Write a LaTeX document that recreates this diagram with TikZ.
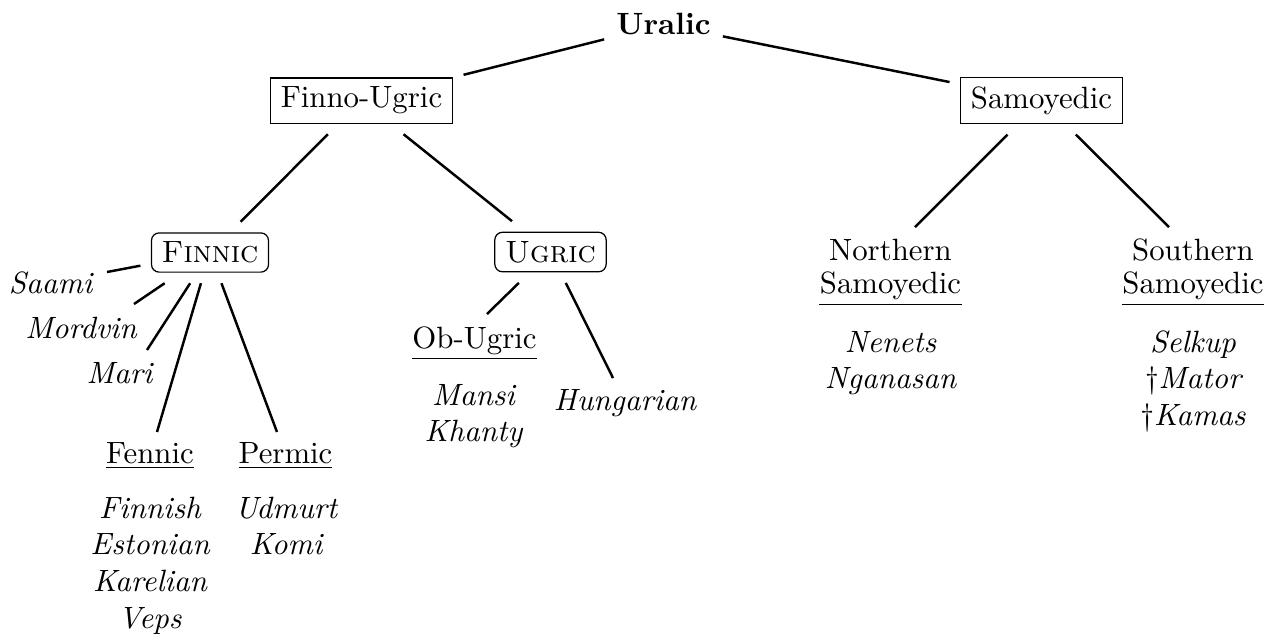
\documentclass[tikz,border=0pt]{standalone}

% stacked cells: lists of languages and two-line group names
\newcommand\langlist[1]{\begin{tabular}[t]{@{}c@{}}#1\end{tabular}}
\newcommand\headstack[1]{{\renewcommand\arraystretch{0.9167}\begin{tabular}[t]{@{}c@{}}#1\end{tabular}}}

\tikzset{
  box/.style={draw, line width=0.4pt, inner xsep=3.33pt, inner ysep=2.9pt, outer sep=3.6pt},
  group/.style={box, rounded corners=2.5pt},
  word/.style={inner sep=3.33pt, outer sep=0.6pt},
  lang/.style={inner sep=0pt, font=\itshape},
  head/.style={inner sep=0pt},
  branch/.style={line width=0.8pt},
  rulebar/.style={line width=0.4pt},
}

\begin{document}
\begin{tikzpicture}[x=0.3247pt, y=-0.3247pt]
  \useasboundingbox (0,0) rectangle (1278,634);

  % root and first split
  \node[word, font=\bfseries] (uralic) at (663.5,24.4) {Uralic};
  \node[box] (fu)  at (361.5,100.5)  {Finno-Ugric};
  \node[box] (sam) at (1041.5,100.5) {Samoyedic};

  % Finno-Ugric branches
  \node[group] (finnic) at (210,252.5) {\textsc{Finnic}};
  \node[group] (ugric)  at (550.5,252) {\textsc{Ugric}};

  % Finnic leaves
  \node[word, font=\itshape, anchor=base] (saami)   at (50.5,293)  {Saami};
  \node[word, font=\itshape, anchor=base] (mordvin) at (81,338)    {Mordvin};
  \node[word, font=\itshape, anchor=base] (mari)    at (119.5,383) {Mari};
  \node[word, anchor=base] (fennic) at (150,463)   {\underline{Fennic}};
  \node[word, anchor=base] (permic) at (285.5,463) {\underline{Permic}};
  \node[lang, anchor=base] (fenniclist) at (150,518) {\langlist{Finnish\\Estonian\\Karelian\\Veps}};
  \node[lang, anchor=base] (permiclist) at (286,518) {\langlist{Udmurt\\Komi}};

  % Ugric leaves
  \node[word, anchor=base] (obugric) at (474.5,348) {\underline{Ob-Ugric}};
  \node[lang, anchor=base] (obugriclist) at (473.5,405) {\langlist{Mansi\\Khanty}};
  \node[word, font=\itshape, anchor=base] (hungarian) at (625,410) {Hungarian};

  % Samoyedic leaves
  \node[head, anchor=base] (nsam) at (890.5,260) {\headstack{Northern\\Samoyedic}};
  \node[head, anchor=base] (ssam) at (1193,260)  {\headstack{Southern\\Samoyedic}};
  \draw[rulebar] (nsam.south west) -- (nsam.south east);
  \draw[rulebar] (ssam.south west) -- (ssam.south east);
  \node[lang, anchor=base] (nsamlist) at (890.5,352) {\langlist{Nenets\\Nganasan}};
  \node[lang, anchor=base] (ssamlist) at (1193,352)  {\langlist{Selkup\\{\upshape\dag}Mator\\{\upshape\dag}Kamas}};

  % tree branches
  \draw[branch] (uralic) -- (fu);
  \draw[branch] (uralic) -- (sam);
  \draw[branch] (fu) -- (finnic);
  \draw[branch] (fu) -- (ugric);
  \draw[branch] (sam) -- ([shift={(24.5,-33)}]nsam.base);
  \draw[branch] (sam) -- ([shift={(-24,-33)}]ssam.base);
  \draw[branch] (finnic) -- ([shift={(56.5,-21)}]saami.base);
  \draw[branch] (finnic) -- ([shift={(53,-34)}]mordvin.base);
  \draw[branch] (finnic) -- ([shift={(27.5,-33)}]mari.base);
  \draw[branch] (finnic) -- ([shift={(7,-31)}]fennic.base);
  \draw[branch] (finnic) -- ([shift={(-8.5,-31)}]permic.base);
  \draw[branch] (ugric) -- ([shift={(12.5,-34)}]obugric.base);
  \draw[branch] (ugric) -- ([shift={(-12,-32)}]hungarian.base);
\end{tikzpicture}
\end{document}
